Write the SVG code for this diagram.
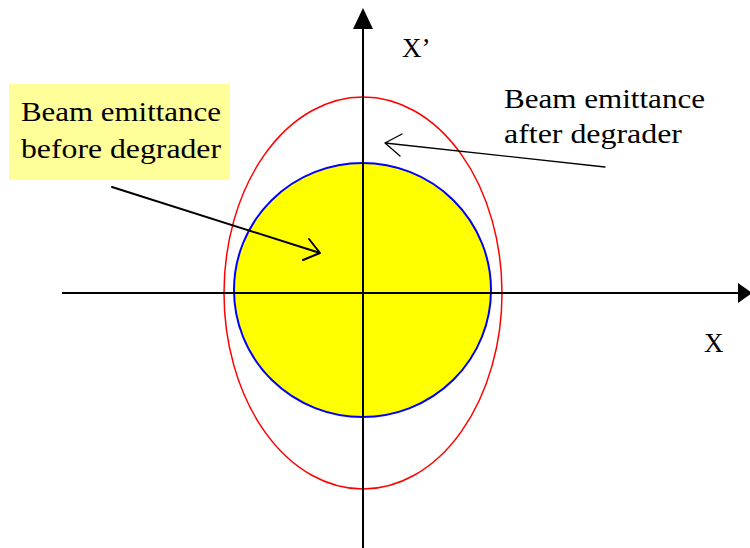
<svg xmlns="http://www.w3.org/2000/svg" width="750" height="548" viewBox="0 0 750 548">
<style>
.ax{stroke:#000;stroke-width:2;fill:none}
.ptr{stroke:#000;fill:none;stroke-linecap:round;stroke-linejoin:round}
</style>
<rect width="750" height="548" fill="#fff"/>
<g id="before-label">
<rect x="9" y="84" width="221" height="96" fill="#FFFF99"/>
<text font-family="Liberation Serif, serif" font-size="27" x="21" y="121" textLength="200" lengthAdjust="spacingAndGlyphs">Beam emittance</text>
<text font-family="Liberation Serif, serif" font-size="27" x="21" y="158" textLength="200" lengthAdjust="spacingAndGlyphs">before degrader</text>
</g>
<g id="after-emittance">
<ellipse cx="363" cy="293" rx="139" ry="196" fill="none" stroke="#FF0000" stroke-width="1.5"/>
</g>
<g id="before-emittance">
<ellipse cx="362.5" cy="290" rx="128.5" ry="127" fill="#FFFF00" stroke="#0000FF" stroke-width="2"/>
</g>
<g id="connectors">
<line class="ax" x1="363" y1="548" x2="363" y2="26"/>
<polygon points="363,8 353,29 373,29" fill="#000"/>
<line class="ax" x1="62" y1="293" x2="740" y2="293"/>
<polygon points="752,293 738,283 738,303" fill="#000"/>
<path class="ptr" stroke-width="2" d="M112,187 L320,253 M309,239 L320,253 L303,260"/>
<path class="ptr" stroke-width="1.3" d="M605,167 L385,143 M402,134 L385,143 L400,156"/>
</g>
<g id="after-label">
<text font-family="Liberation Serif, serif" font-size="27" x="504" y="108" textLength="201" lengthAdjust="spacingAndGlyphs">Beam emittance</text>
<text font-family="Liberation Serif, serif" font-size="27" x="504" y="143" textLength="178" lengthAdjust="spacingAndGlyphs">after degrader</text>
</g>
<g id="axis-labels">
<text font-family="Liberation Serif, serif" font-size="27" x="402" y="57">X’</text>
<text font-family="Liberation Serif, serif" font-size="27" x="704" y="352">X</text>
</g>
</svg>
